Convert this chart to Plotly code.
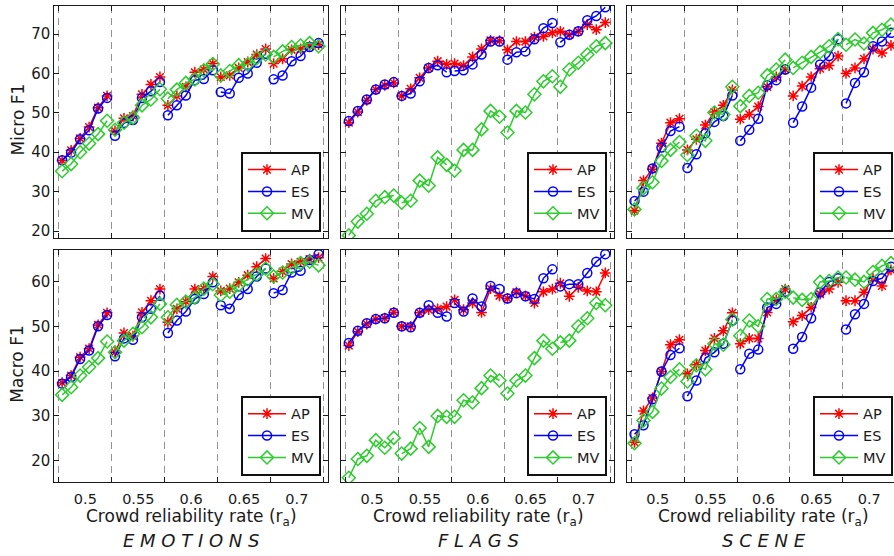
import plotly.graph_objects as go

# Crowd reliability rate of each evaluated point: five groups of six runs
RA = [0.478, 0.4865, 0.495, 0.5035, 0.512, 0.5205,
      0.528, 0.5365, 0.545, 0.5535, 0.562, 0.5705,
      0.578, 0.5865, 0.595, 0.6035, 0.612, 0.6205,
      0.628, 0.6365, 0.645, 0.6535, 0.662, 0.6705,
      0.678, 0.6865, 0.695, 0.7035, 0.712, 0.7205]
GROUP_SIZE = 6

DATASETS = ["EMOTIONS", "FLAGS", "SCENE"]
METHODS = ["AP", "ES", "MV"]

# ---- Micro F1 ----
emotions_micro_ap = [37.9, 40.5, 43.5, 46.4, 51.3, 54.3, 45.4, 48.6, 49.2, 54.7, 57.2, 59.1,
                     51.9, 54.3, 56.6, 60.3, 61.0, 62.5, 59.1, 59.5, 61.4, 62.9, 64.8, 66.2,
                     62.5, 63.7, 66.0, 66.2, 66.9, 67.3]
emotions_micro_es = [38.0, 39.9, 43.3, 45.6, 51.1, 53.8, 44.2, 47.4, 48.2, 53.8, 55.5, 57.8,
                     49.4, 51.9, 54.4, 58.3, 58.6, 60.8, 55.3, 54.9, 58.9, 60.0, 62.7, 65.0,
                     58.5, 59.5, 63.1, 64.4, 66.7, 67.7]
emotions_micro_mv = [35.2, 37.0, 40.0, 42.2, 44.6, 48.0, 45.7, 47.5, 48.8, 51.9, 53.4, 56.0,
                     53.6, 55.9, 57.6, 58.5, 60.8, 62.4, 59.5, 60.6, 62.1, 62.3, 63.9, 64.8,
                     64.2, 65.6, 66.7, 67.1, 67.7, 66.9]

flags_micro_ap = [47.5, 50.2, 53.2, 55.9, 57.0, 57.6, 54.3, 56.1, 58.9, 61.4, 63.1, 62.3,
                  62.5, 62.0, 64.2, 66.2, 68.4, 68.3, 66.0, 68.1, 68.1, 69.2, 69.4, 70.3,
                  70.7, 69.8, 70.7, 72.4, 71.1, 72.9]
flags_micro_es = [47.9, 50.5, 53.4, 55.9, 57.2, 57.8, 54.3, 54.9, 58.0, 61.4, 62.1, 60.3,
                  60.6, 60.8, 62.3, 64.8, 68.1, 68.1, 63.5, 65.4, 65.6, 68.7, 71.5, 72.8,
                  67.9, 69.8, 70.7, 73.5, 74.6, 76.8]
flags_micro_mv = [18.9, 22.4, 24.4, 27.7, 28.6, 29.0, 27.2, 27.7, 32.8, 31.5, 38.7, 36.8,
                  35.3, 40.6, 40.6, 45.8, 50.5, 49.0, 45.0, 50.5, 50.1, 54.7, 58.0, 59.3,
                  56.6, 61.0, 62.7, 64.8, 66.9, 67.7]

scene_micro_ap = [25.2, 32.8, 35.7, 42.3, 47.5, 48.5, 40.6, 43.3, 46.9, 50.2, 51.9, 55.8,
                  48.4, 49.6, 51.6, 56.6, 59.1, 61.0, 54.3, 56.8, 59.1, 61.2, 62.0, 64.4,
                  60.0, 61.4, 63.7, 66.2, 65.2, 67.1]
scene_micro_es = [27.6, 30.0, 35.9, 41.2, 45.4, 46.5, 36.0, 39.5, 44.8, 47.7, 49.2, 54.4,
                  42.9, 45.7, 48.5, 57.0, 58.3, 61.0, 47.5, 51.6, 56.4, 62.3, 64.4, 68.7,
                  52.4, 57.6, 60.3, 66.9, 68.1, 70.3]
scene_micro_mv = [25.5, 30.9, 32.4, 37.8, 40.6, 42.6, 39.3, 44.2, 42.9, 50.1, 49.6, 56.6,
                  51.7, 54.3, 55.1, 59.5, 61.0, 63.5, 61.4, 62.7, 64.2, 65.4, 66.9, 68.7,
                  67.3, 68.6, 67.6, 70.3, 71.1, 72.4]

# ---- Macro F1 ----
emotions_macro_ap = [37.4, 39.0, 43.1, 45.0, 50.3, 53.0, 44.2, 48.5, 47.8, 53.1, 55.7, 58.3,
                     50.9, 53.9, 55.5, 58.3, 58.4, 61.1, 57.9, 58.4, 59.8, 61.4, 63.3, 65.1,
                     60.7, 62.2, 63.9, 64.4, 65.0, 65.3]
emotions_macro_es = [37.2, 38.7, 42.7, 44.6, 50.0, 52.5, 43.3, 47.3, 47.0, 52.0, 53.9, 56.8,
                     48.5, 51.3, 53.3, 56.1, 57.2, 59.8, 54.7, 53.9, 57.0, 58.3, 61.1, 62.9,
                     57.4, 58.1, 62.0, 62.4, 64.8, 66.1]
emotions_macro_mv = [34.7, 36.4, 39.0, 40.9, 42.9, 46.6, 44.2, 46.8, 48.3, 49.8, 52.0, 55.0,
                     52.0, 54.8, 55.5, 56.4, 58.4, 59.4, 57.0, 57.7, 59.2, 60.5, 61.6, 62.9,
                     61.1, 62.0, 63.1, 64.1, 64.4, 63.6]

flags_macro_ap = [45.7, 48.8, 50.5, 51.6, 51.8, 53.1, 50.0, 50.0, 53.0, 53.7, 53.9, 54.4,
                  55.9, 53.7, 55.2, 53.1, 58.4, 56.8, 56.2, 57.6, 56.8, 55.2, 57.7, 58.3,
                  59.6, 56.7, 58.7, 57.9, 57.7, 61.9]
flags_macro_es = [46.3, 49.0, 50.7, 51.6, 51.8, 53.0, 50.0, 49.8, 53.0, 54.7, 53.0, 52.2,
                  55.2, 53.3, 56.2, 54.4, 59.0, 58.3, 56.2, 57.4, 56.7, 56.1, 60.7, 62.7,
                  58.9, 59.4, 59.4, 61.9, 64.4, 66.1]
flags_macro_mv = [16.2, 20.4, 21.1, 24.6, 22.9, 25.1, 21.6, 22.7, 27.3, 23.1, 30.0, 29.8,
                  29.8, 33.5, 33.0, 36.2, 39.0, 37.9, 35.0, 37.9, 39.0, 42.9, 46.8, 45.0,
                  46.4, 46.8, 50.0, 51.8, 55.2, 54.7]

scene_macro_ap = [24.1, 31.1, 34.0, 39.9, 45.9, 47.0, 39.4, 41.4, 44.6, 47.3, 49.0, 53.0,
                  46.1, 47.3, 47.3, 53.1, 55.9, 58.3, 51.0, 52.4, 54.2, 57.2, 58.3, 59.8,
                  55.7, 55.7, 57.6, 60.7, 59.0, 62.6]
scene_macro_es = [25.9, 27.9, 33.7, 39.9, 43.6, 45.1, 34.4, 37.9, 42.9, 44.2, 46.1, 51.3,
                  40.4, 43.9, 44.8, 54.2, 55.0, 57.7, 45.0, 47.6, 51.8, 57.6, 59.9, 60.7,
                  49.3, 52.7, 55.0, 60.1, 60.7, 63.3]
scene_macro_mv = [23.9, 29.0, 30.9, 36.1, 38.7, 40.4, 37.7, 41.3, 40.4, 46.1, 45.9, 51.5,
                  47.9, 51.3, 50.0, 56.1, 56.1, 57.7, 56.4, 55.9, 56.1, 59.9, 60.1, 60.9,
                  60.9, 60.4, 59.9, 62.1, 63.5, 64.1]

X_TICKS = [0.5, 0.55, 0.6, 0.65, 0.7]
X_TICK_TEXT = ["0.5", "0.55", "0.6", "0.65", "0.7"]
Y_TICKS_MICRO = [20, 30, 40, 50, 60, 70]
Y_TICKS_MACRO = [20, 30, 40, 50, 60]
Y_LABELS = ["Micro F1", "Macro F1"]

panels = [
    [emotions_micro_ap, emotions_micro_es, emotions_micro_mv],
    [flags_micro_ap, flags_micro_es, flags_micro_mv],
    [scene_micro_ap, scene_micro_es, scene_micro_mv],
    [emotions_macro_ap, emotions_macro_es, emotions_macro_mv],
    [flags_macro_ap, flags_macro_es, flags_macro_mv],
    [scene_macro_ap, scene_macro_es, scene_macro_mv],
]

# ---- styling ----
W, H = 894, 556
FONT = "DejaVu Sans"
INK = "#1a1a1a"
STYLES = {
    "AP": dict(color="#ff0000", symbol="asterisk-open", size=9),
    "ES": dict(color="#0000ff", symbol="circle-open", size=9),
    "MV": dict(color="#2ecc2e", symbol="diamond-open", size=10),
}
COL_PX = [(54.3, 328.3), (341.0, 614.0), (626.7, 894.0)]
ROW_PX = [(5.7, 239.0), (251.0, 484.0)]
PX_PER_UNIT = 1057.5
X0 = 0.4706
Y_RANGES = [(18.2, 77.2), (15.2, 67.0)]
LEGEND_RIGHT = [321.0, 607.0, 893.0]
LEGEND_BOTTOM = [232.5, 477.5]


def gapped(values):
    """Split a 30-value series into groups, separated by gaps."""
    out = []
    for i, v in enumerate(values):
        if i and i % GROUP_SIZE == 0:
            out.append(None)
        out.append(v)
    return out


fig = go.Figure()
layout = {}

for p, series in enumerate(panels):
    r, c = divmod(p, 3)
    sfx = "" if p == 0 else str(p + 1)
    leg = "legend" if p == 0 else f"legend{p + 1}"
    for m, vals in zip(METHODS, series):
        st = STYLES[m]
        fig.add_trace(go.Scatter(
            x=gapped(RA), y=gapped(vals), name=m, mode="lines+markers",
            xaxis="x" + sfx, yaxis="y" + sfx, legend=leg,
            line=dict(color=st["color"], width=1.5),
            marker=dict(symbol=st["symbol"], size=st["size"], color=st["color"],
                        line=dict(color=st["color"], width=1.5)),
            connectgaps=False, cliponaxis=True,
        ))

    x_lo, x_hi = COL_PX[c]
    y_top, y_bot = ROW_PX[r]
    x_range = [X0, X0 + (x_hi - x_lo) / PX_PER_UNIT]
    layout["xaxis" + sfx] = dict(
        domain=[x_lo / W, x_hi / W], range=x_range, anchor="y" + sfx,
        showline=True, linecolor=INK, linewidth=1, mirror="ticks",
        tickmode="array", tickvals=X_TICKS, ticktext=X_TICK_TEXT, ticks="",
        showticklabels=(r == 1), ticklabelstandoff=3,
        tickfont=dict(family=FONT, size=14.5, color=INK),
        showgrid=False, zeroline=False,
        minor=dict(tick0=0.475, dtick=0.05, ticks="inside", ticklen=5,
                   tickcolor=INK, tickwidth=1, showgrid=True,
                   gridcolor="#939393", gridwidth=1.3, griddash="7px,5px"),
    )
    layout["yaxis" + sfx] = dict(
        domain=[1 - y_bot / H, 1 - y_top / H], range=list(Y_RANGES[r]),
        anchor="x" + sfx,
        showline=True, linecolor=INK, linewidth=1,
        mirror=("ticks" if c < 2 else False),
        tickmode="array", tickvals=(Y_TICKS_MICRO if r == 0 else Y_TICKS_MACRO),
        ticks="inside", ticklen=5, tickcolor=INK,
        showticklabels=(c == 0),
        tickfont=dict(family=FONT, size=15, color=INK),
        showgrid=False, zeroline=False,
    )
    layout[leg] = dict(
        x=LEGEND_RIGHT[c] / W, y=1 - LEGEND_BOTTOM[r] / H,
        xanchor="right", yanchor="bottom", xref="paper", yref="paper",
        bgcolor="white", bordercolor="#111111", borderwidth=2,
        font=dict(family=FONT, size=14.5, color=INK),
        itemwidth=38, tracegroupgap=0,
    )

annotations = []
for r, label in enumerate(Y_LABELS):
    y_top, y_bot = ROW_PX[r]
    annotations.append(dict(
        text=label, x=17.5 / W, y=1 - ((y_top + y_bot) / 2 - 2) / H,
        xref="paper", yref="paper", showarrow=False, textangle=-90,
        xanchor="center", yanchor="middle",
        font=dict(family=FONT, size=17, color=INK),
    ))
for c, name in enumerate(DATASETS):
    x_lo, x_hi = COL_PX[c]
    xc = (x_lo + (x_lo + 274.0)) / 2
    annotations.append(dict(
        text="Crowd reliability rate (r<sub>a</sub>)", x=xc / W, y=1 - 519 / H,
        xref="paper", yref="paper", showarrow=False,
        xanchor="center", yanchor="middle",
        font=dict(family=FONT, size=17, color=INK),
    ))
    annotations.append(dict(
        text="<i>" + " ".join(name) + "</i>", x=xc / W, y=1 - 542 / H,
        xref="paper", yref="paper", showarrow=False,
        xanchor="center", yanchor="middle",
        font=dict(family=FONT, size=18, color=INK),
    ))

fig.update_layout(
    width=W, height=H, margin=dict(l=0, r=0, t=0, b=0),
    paper_bgcolor="white", plot_bgcolor="white",
    font=dict(family=FONT, color=INK),
    annotations=annotations,
    **layout,
)

fig.write_html("out.html")
